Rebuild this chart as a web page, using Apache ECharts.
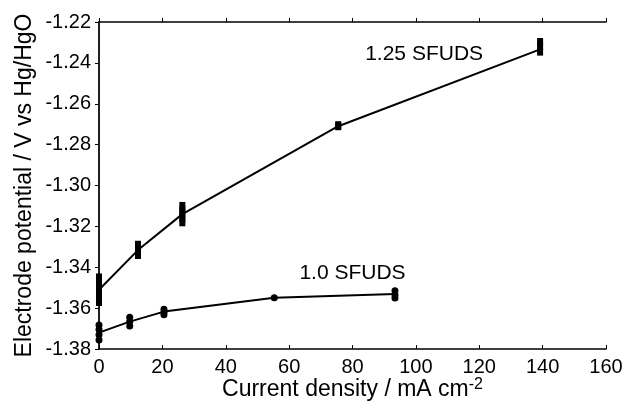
<!DOCTYPE html>
<html>
<head>
<meta charset="utf-8">
<script src="https://cdn.jsdelivr.net/npm/echarts@6/dist/echarts.min.js"></script>
<style>
  html, body { margin: 0; padding: 0; background: #fff; }
  #chart { width: 624px; height: 406px; }
</style>
</head>
<body>
<div id="chart"></div>
<script>
// 1.25 SFUDS: mean curve
var x125 = [0, 12.3, 26.3, 75.5, 139.2];
var y125 = [-1.351, -1.3316, -1.314, -1.271, -1.2334];
// replicate readings (the thick bars at each point)
var rep125 = [
  [0, -1.345], [0, -1.348], [0, -1.351], [0, -1.354], [0, -1.357],
  [12.3, -1.329], [12.3, -1.3315], [12.3, -1.334],
  [26.3, -1.310], [26.3, -1.312], [26.3, -1.314], [26.3, -1.316], [26.3, -1.318],
  [75.5, -1.2705], [75.5, -1.271],
  [139.2, -1.2298], [139.2, -1.2318], [139.2, -1.2345]
];

// 1.0 SFUDS
var x10 = [0, 9.7, 20.5, 55.3, 93.4];
var y10 = [-1.372, -1.3666, -1.3617, -1.3549, -1.3531];
var rep10 = [
  [0, -1.3683], [0, -1.3705], [0, -1.373], [0, -1.3756],
  [9.7, -1.3645], [9.7, -1.3665], [9.7, -1.3687],
  [20.5, -1.3605], [20.5, -1.362], [20.5, -1.3632],
  [55.3, -1.3549],
  [93.4, -1.3515], [93.4, -1.3535], [93.4, -1.355]
];

var xTicks = [0, 160, 20];        // min, max, interval
var yTicks = [-1.38, -1.22, 0.02];

var font = '"Liberation Sans", Arial, sans-serif';

function pairs(xs, ys) {
  var out = [];
  for (var i = 0; i < xs.length; i++) out.push([xs[i], ys[i]]);
  return out;
}

var myChart = echarts.init(document.getElementById('chart'));
var option = {
  backgroundColor: '#fff',
  animation: false,
  textStyle: { fontFamily: font, color: '#000' },
  grid: { left: 99, right: 18, top: 22, bottom: 57, containLabel: false, outerBoundsMode: 'none' },
  xAxis: [{
    type: 'value',
    min: xTicks[0], max: xTicks[1], interval: xTicks[2],
    name: 'Current density / mA cm{sup|-2}',
    nameLocation: 'middle',
    nameGap: 28,
    nameMoveOverlap: false,
    nameTextStyle: {
      fontSize: 23, color: '#000', fontFamily: font,
      rich: { sup: { fontSize: 16, verticalAlign: 'top', padding: [0, 0, 10, 0], color: '#000', fontFamily: font } }
    },
    axisLine: { lineStyle: { color: '#000', width: 1.5 } },
    axisTick: { inside: true, length: 4, lineStyle: { color: '#000', width: 1 } },
    axisLabel: { fontSize: 20, color: '#000', margin: 8, fontFamily: font },
    splitLine: { show: false }
  }, {
    type: 'value', position: 'top',
    min: xTicks[0], max: xTicks[1], interval: xTicks[2],
    axisLine: { show: true, lineStyle: { color: '#000', width: 1.5 } },
    axisTick: { show: true, length: 4, lineStyle: { color: '#000' } },
    axisLabel: { show: false },
    splitLine: { show: false }
  }],
  yAxis: [{
    type: 'value',
    min: yTicks[0], max: yTicks[1], interval: yTicks[2],
    name: 'Electrode potential / V vs Hg/HgO',
    nameLocation: 'middle',
    nameGap: 63,
    nameMoveOverlap: false,
    nameTextStyle: { fontSize: 23, color: '#000', fontFamily: font },
    axisLine: { lineStyle: { color: '#555', width: 1.5 } },
    axisTick: { length: 4, lineStyle: { color: '#000' } },
    axisLabel: {
      fontSize: 20, color: '#000', margin: 8, fontFamily: font,
      formatter: function (v) { return v.toFixed(2); }
    },
    splitLine: { show: false }
  }, {
    type: 'value', position: 'right',
    min: yTicks[0], max: yTicks[1], interval: yTicks[2],
    axisLine: { show: true, lineStyle: { color: '#000', width: 1.5 } },
    axisTick: { show: true, inside: true, length: 4, lineStyle: { color: '#000' } },
    axisLabel: { show: false },
    splitLine: { show: false }
  }],
  series: [{
    name: '1.25 SFUDS',
    type: 'line',
    data: pairs(x125, y125),
    showSymbol: false,
    lineStyle: { color: '#000', width: 2 },
    markPoint: {
      symbol: 'circle', symbolSize: 0,
      label: { show: true, formatter: '1.25 SFUDS', fontSize: 21, color: '#000', fontFamily: font },
      data: [{ coord: [102.6, -1.2357] }]
    }
  }, {
    name: '1.0 SFUDS',
    type: 'line',
    data: pairs(x10, y10),
    showSymbol: false,
    lineStyle: { color: '#000', width: 2 },
    markPoint: {
      symbol: 'circle', symbolSize: 0,
      label: { show: true, formatter: '1.0 SFUDS', fontSize: 21, color: '#000', fontFamily: font },
      data: [{ coord: [80.0, -1.3428] }]
    }
  }, {
    type: 'scatter',
    data: rep125,
    symbol: 'rect',
    symbolSize: [6, 8],
    itemStyle: { color: '#000', opacity: 1 }
  }, {
    type: 'scatter',
    data: rep10,
    symbol: 'circle',
    symbolSize: [7, 7],
    itemStyle: { color: '#000', opacity: 1 }
  }]
};
myChart.setOption(option);
</script>
</body>
</html>
